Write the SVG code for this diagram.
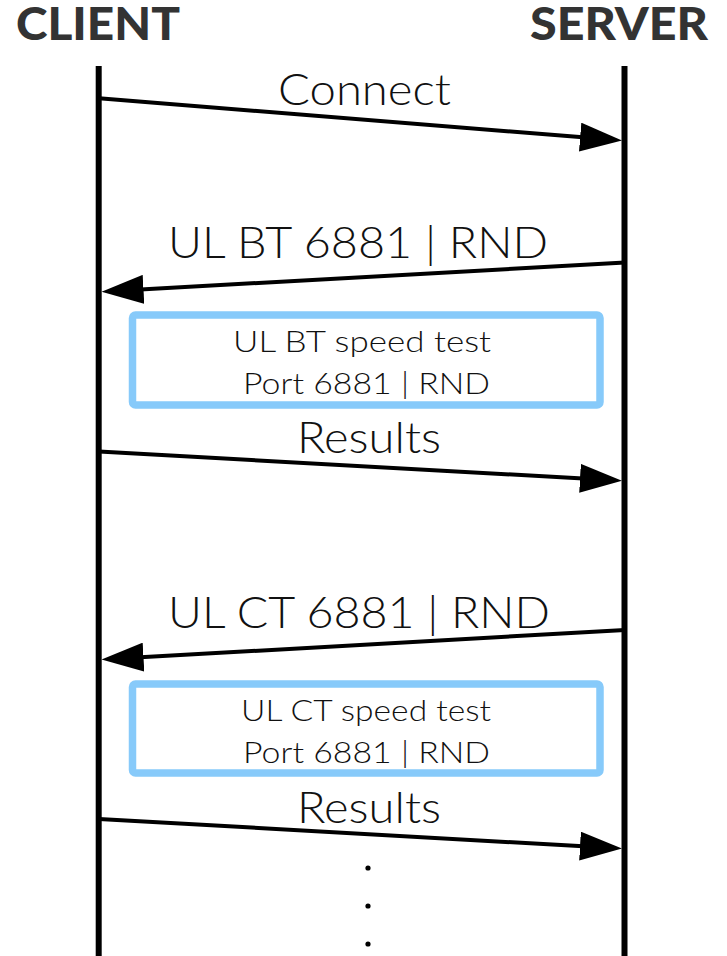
<svg xmlns="http://www.w3.org/2000/svg" width="727" height="956" viewBox="0 0 727 956">
  <style>
    .actor { font-family: "Lato Black", Lato, "Open Sans", sans-serif; font-weight: 900; font-size: 45px; fill: #333333; }
    .msg { font-family: "Lato Light", Lato, "Open Sans", sans-serif; font-weight: 300; font-size: 44px; fill: #111111; text-anchor: middle; }
    .note-text { font-family: "Lato Light", Lato, "Open Sans", sans-serif; font-weight: 300; font-size: 30px; fill: #111111; text-anchor: middle; }
    .lifeline { stroke: #000000; stroke-width: 6; }
    .arrow { stroke: #000000; stroke-width: 4; fill: none; marker-end: url(#head); }
    .note { fill: #ffffff; stroke: #87cafa; stroke-width: 7.5; }
  </style>
  <defs>
    <marker id="head" markerUnits="userSpaceOnUse" markerWidth="42" markerHeight="29" refX="12" refY="14.5" orient="auto">
      <path d="M0,0 L42,14.5 L0,29 z" fill="#000000"/>
    </marker>
  </defs>
  <rect width="727" height="956" fill="#ffffff"/>

  <!-- participants with their lifelines -->
  <g id="client">
    <text class="actor" x="16" y="40" textLength="164" lengthAdjust="spacingAndGlyphs">CLIENT</text>
    <line class="lifeline" x1="98.7" y1="66" x2="98.7" y2="956"/>
  </g>
  <g id="server">
    <text class="actor" x="530" y="40" textLength="178" lengthAdjust="spacingAndGlyphs">SERVER</text>
    <line class="lifeline" x1="624.5" y1="66" x2="624.5" y2="956"/>
  </g>

  <!-- speed test notes -->
  <g id="note-bt">
    <rect class="note" x="132.5" y="315" width="467.5" height="90" rx="3"/>
    <text class="note-text" x="362" y="352" textLength="258" lengthAdjust="spacingAndGlyphs">UL BT speed test</text>
    <text class="note-text" x="366.5" y="394" textLength="247" lengthAdjust="spacingAndGlyphs">Port 6881 | RND</text>
  </g>
  <g id="note-ct">
    <rect class="note" x="132.5" y="684" width="467.5" height="89" rx="3"/>
    <text class="note-text" x="366" y="721" textLength="250" lengthAdjust="spacingAndGlyphs">UL CT speed test</text>
    <text class="note-text" x="366.5" y="763" textLength="247" lengthAdjust="spacingAndGlyphs">Port 6881 | RND</text>
  </g>

  <!-- messages -->
  <g id="connectors">
    <line class="arrow" x1="99" y1="98.3" x2="592.1" y2="138.1"/>
    <line class="arrow" x1="625" y1="262.5" x2="131.5" y2="290"/>
    <line class="arrow" x1="99" y1="451.5" x2="592" y2="479"/>
    <line class="arrow" x1="625" y1="630" x2="131.5" y2="657.8"/>
    <line class="arrow" x1="99" y1="819" x2="592" y2="846.8"/>
  </g>

  <g id="labels">
    <text class="msg" x="364.5" y="105" textLength="173" lengthAdjust="spacingAndGlyphs">Connect</text>
    <text class="msg" x="358" y="258" textLength="380" lengthAdjust="spacingAndGlyphs">UL BT 6881 | RND</text>
    <text class="msg" x="369" y="453" textLength="144" lengthAdjust="spacingAndGlyphs">Results</text>
    <text class="msg" x="359" y="628" textLength="382" lengthAdjust="spacingAndGlyphs">UL CT 6881 | RND</text>
    <text class="msg" x="369" y="823" textLength="144" lengthAdjust="spacingAndGlyphs">Results</text>
  </g>

  <!-- vertical ellipsis: sequence continues -->
  <g id="continuation" fill="#000000">
    <circle cx="368" cy="868" r="2.6"/>
    <circle cx="368" cy="906" r="2.6"/>
    <circle cx="368" cy="944" r="2.6"/>
  </g>
</svg>
